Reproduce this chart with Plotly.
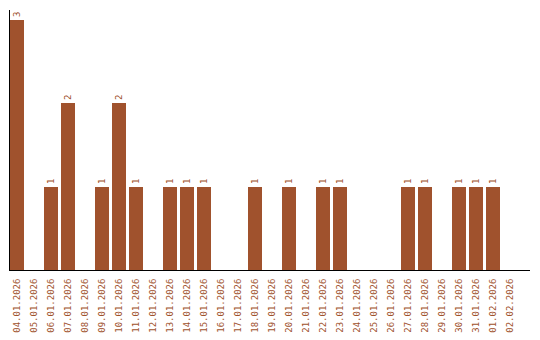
import plotly.graph_objects as go

dates = ["04.01.2026", "05.01.2026", "06.01.2026", "07.01.2026", "08.01.2026",
         "09.01.2026", "10.01.2026", "11.01.2026", "12.01.2026", "13.01.2026",
         "14.01.2026", "15.01.2026", "16.01.2026", "17.01.2026", "18.01.2026",
         "19.01.2026", "20.01.2026", "21.01.2026", "22.01.2026", "23.01.2026",
         "24.01.2026", "25.01.2026", "26.01.2026", "27.01.2026", "28.01.2026",
         "29.01.2026", "30.01.2026", "31.01.2026", "01.02.2026", "02.02.2026"]
counts = [3, 0, 1, 2, 0, 1, 2, 1, 0, 1,
          1, 1, 0, 0, 1, 0, 1, 0, 1, 1,
          0, 0, 0, 1, 1, 0, 1, 1, 1, 0]

BROWN = "#A0522D"
FONT = "DejaVu Sans Mono"

labels = [str(v) if v > 0 else "" for v in counts]

fig = go.Figure(go.Bar(
    x=list(range(len(dates))), y=counts,
    marker=dict(color=BROWN, line=dict(width=0)),
    width=14 / 17,
    text=labels, textposition="outside", textangle=-90,
    textfont=dict(family=FONT, size=9, color=BROWN),
    cliponaxis=False,
    hoverinfo="skip",
))

fig.update_layout(
    width=540, height=340,
    margin=dict(l=10, r=10, t=10, b=70),
    paper_bgcolor="white", plot_bgcolor="white",
    showlegend=False,
    bargap=0,
    uniformtext=dict(minsize=6, mode=False),
)
fig.update_xaxes(
    range=[-7 / 17, 29 + 20 / 17],
    tickmode="array", tickvals=list(range(len(dates))), ticktext=dates,
    tickangle=-90, automargin=False,
    tickfont=dict(family=FONT, size=9, color=BROWN),
    showline=True, linecolor="black", linewidth=1,
    showgrid=False, zeroline=False,
    ticks="outside", ticklen=4, tickcolor="rgba(0,0,0,0)",
)
fig.update_yaxes(
    range=[0, 3 + 10 / (250 / 3)],
    showticklabels=False, showgrid=False, zeroline=False,
    showline=True, linecolor="black", linewidth=1,
    layer="below traces", automargin=False,
)

fig.write_html("out.html")
